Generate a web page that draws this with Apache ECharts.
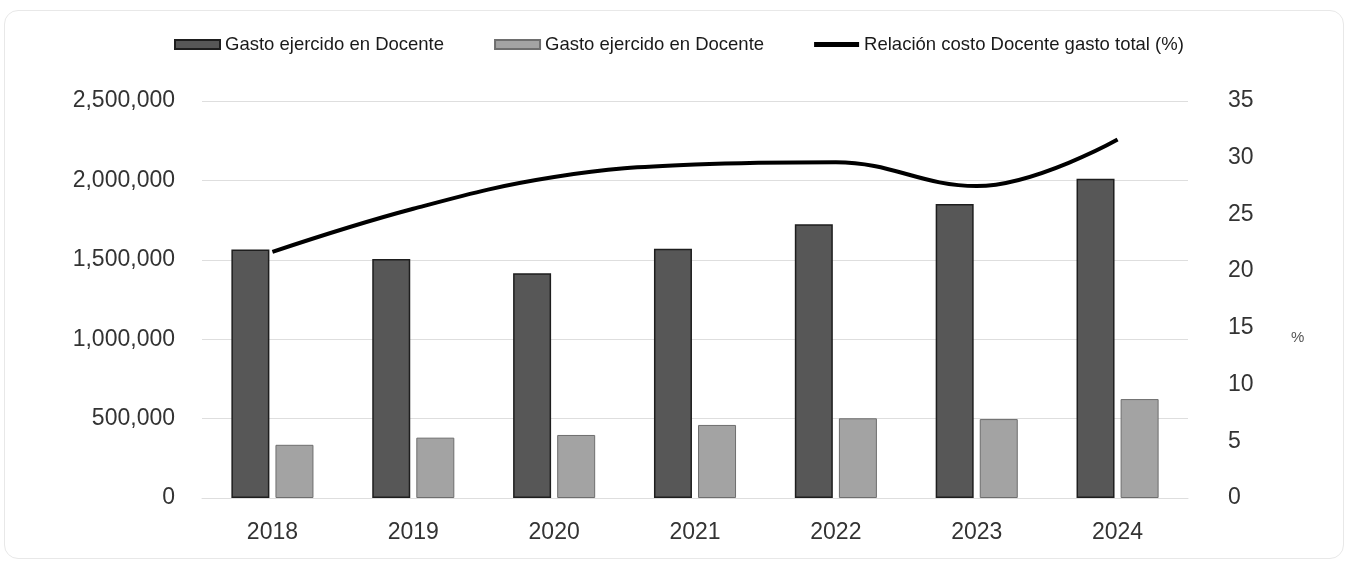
<!DOCTYPE html>
<html>
<head>
<meta charset="utf-8">
<script src="https://cdn.jsdelivr.net/npm/echarts@6/dist/echarts.min.js"></script>
<style>
  html, body { margin: 0; padding: 0; background: #fff; }
  #frame { position: absolute; left: 4px; top: 10px; width: 1340px; height: 549px; border: 1px solid #e8e8e8; border-radius: 14px; box-sizing: border-box; }
  #chart { position: absolute; left: 0; top: 0; width: 1348px; height: 562px; }
</style>
</head>
<body>
<div id="frame"></div>
<div id="chart"></div>
<script>
const categories = ['2018', '2019', '2020', '2021', '2022', '2023', '2024'];
const gastoDocenteA = [1565000, 1505000, 1415000, 1570000, 1724000, 1851000, 2011000];
const gastoDocenteB = [335000, 380000, 397000, 460000, 502000, 497000, 623000];
const relacionPct = [21.7, 25.5, 28.3, 29.4, 29.6, 27.5, 31.6];
const leftTicks = [0, 500000, 1000000, 1500000, 2000000, 2500000];
const rightTicks = [0, 5, 10, 15, 20, 25, 30, 35];
const seriesNames = ['Gasto ejercido en Docente', 'Gasto ejercido en Docente ', 'Relación costo Docente gasto total (%)'];

const FONT = '"Liberation Sans", Arial, sans-serif';
const chart = echarts.init(document.getElementById('chart'), null, { renderer: 'canvas' });

chart.setOption({
  animation: false,
  backgroundColor: 'transparent',
  legend: {
    top: 30,
    left: 169,
    itemGap: 50,
    itemWidth: 45,
    itemHeight: 9,
    textStyle: { fontFamily: FONT, fontSize: 18.5, color: '#1a1a1a' },
    data: [
      { name: seriesNames[0], icon: 'rect' },
      { name: seriesNames[1], icon: 'rect' },
      { name: seriesNames[2], icon: 'path://M0,0L45,0L45,5L0,5Z' }
    ],
    formatter: n => n.trim()
  },
  grid: { left: 202, right: 160, top: 101, bottom: 64 },
  xAxis: {
    type: 'category',
    data: categories,
    axisTick: { show: false },
    axisLine: { show: true, lineStyle: { color: '#dedede', width: 1 } },
    axisLabel: { fontFamily: FONT, fontSize: 23, color: '#333', margin: 23 }
  },
  yAxis: [
    {
      type: 'value', min: leftTicks[0], max: leftTicks[leftTicks.length - 1], interval: 500000,
      axisLine: { show: false }, axisTick: { show: false },
      splitLine: { lineStyle: { color: '#dedede', width: 1 } },
      axisLabel: {
        fontFamily: FONT, fontSize: 23, color: '#333', margin: 27,
        formatter: v => v.toLocaleString('en-US')
      }
    },
    {
      type: 'value', min: rightTicks[0], max: rightTicks[rightTicks.length - 1], interval: 5,
      position: 'right',
      name: '%', nameLocation: 'middle', nameRotate: 0, nameGap: 103,
      nameTextStyle: { fontFamily: FONT, fontSize: 15, color: '#555', verticalAlign: 'top', padding: [31, 0, 0, 0] },
      axisLine: { show: false }, axisTick: { show: false },
      splitLine: { show: false },
      axisLabel: { fontFamily: FONT, fontSize: 23, color: '#333', margin: 40 }
    }
  ],
  series: [
    {
      name: seriesNames[0], type: 'bar', data: gastoDocenteA,
      barWidth: 38, barGap: '16%',
      itemStyle: { color: '#575757', borderColor: '#1e1e1e', borderWidth: 1.5 }
    },
    {
      name: seriesNames[1], type: 'bar', data: gastoDocenteB,
      barWidth: 38, barGap: '16%',
      itemStyle: { color: '#a3a3a3', borderColor: '#6e6e6e', borderWidth: 1 }
    },
    {
      name: seriesNames[2], type: 'line', yAxisIndex: 1, data: relacionPct,
      smooth: 0.4, symbol: 'none',
      lineStyle: { color: '#000', width: 4 },
      itemStyle: { color: '#000' }
    }
  ]
});
</script>
</body>
</html>
